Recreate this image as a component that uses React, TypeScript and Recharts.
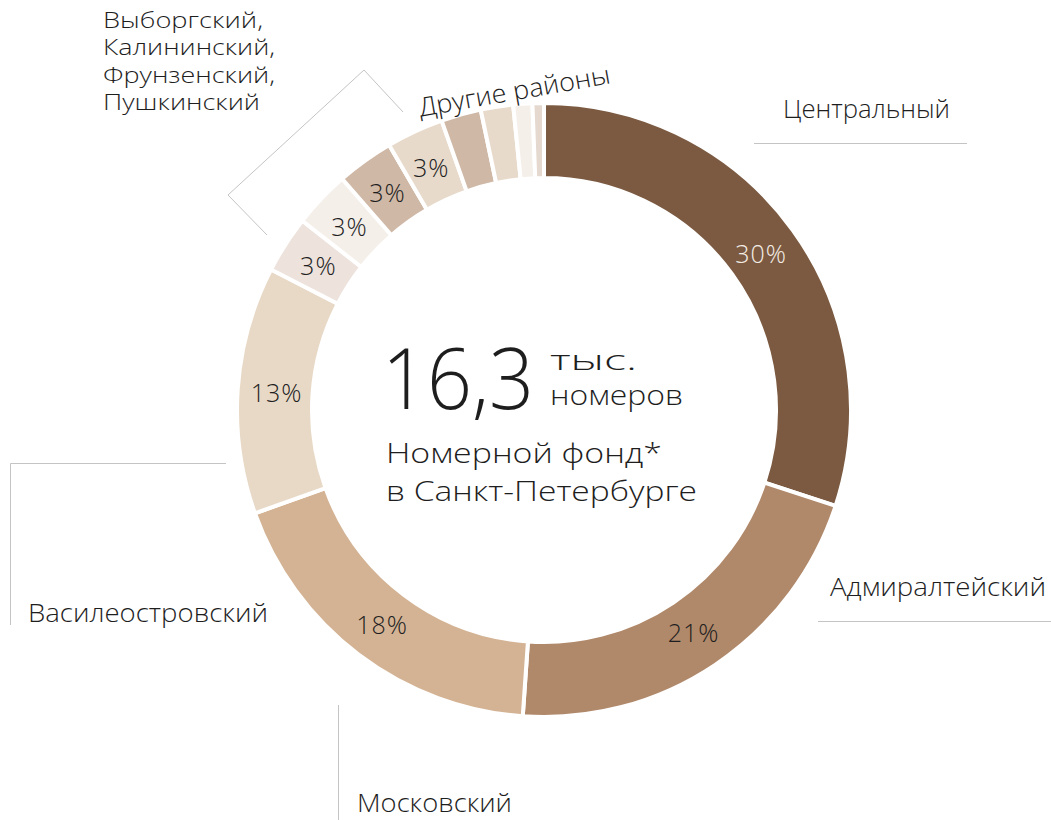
import React from 'react'
import { PieChart, Pie, Cell } from 'recharts'

const districts = [
  'Центральный',
  'Адмиралтейский',
  'Московский',
  'Василеостровский',
  'Выборгский',
  'Калининский',
  'Фрунзенский',
  'Пушкинский',
  'Другой 1',
  'Другой 2',
  'Другой 3',
  'Другой 4',
]
const shares = [30, 21, 18.4, 13, 3, 3, 3, 3, 2.1, 1.7, 1.0, 0.6]
const colors = [
  '#7b5a41', '#b0886a', '#d4b394', '#e8d9c7',
  '#ede2dc', '#f5efea', '#cfb8a6', '#e8dacb',
  '#cfb8a6', '#e8dacb', '#f5efea', '#e4d8cf',
]
const groupLines = ['Выборгский,', 'Калининский,', 'Фрунзенский,', 'Пушкинский']
const groupWidths = [160, 172, 172, 157]

const data = districts.map((name, i) => ({ name, value: shares[i] }))

const FONT = '"Open Sans", Lato, sans-serif'
const RAD = Math.PI / 180

function renderLabel(props: any) {
  const { cx, cy, midAngle, index, value } = props
  if (value < 3) return null
  const r = 268
  const x = cx + r * Math.cos(-midAngle * RAD)
  const y = cy + r * Math.sin(-midAngle * RAD)
  return (
    <text
      x={x}
      y={y}
      textAnchor="middle"
      dominantBaseline="central"
      fill={index === 0 ? '#f4ede6' : '#1e1e1e'}
      fontSize={25}
      fontWeight={300}
      fontFamily={FONT}
      letterSpacing={1}
    >
      {`${Math.round(value)}%`}
    </text>
  )
}

export default function App() {
  const line = '#c4c4c4'
  const txt = '#1e1e1e'
  const fit = 'spacingAndGlyphs'
  return (
    <div style={{ position: 'absolute', left: 0, top: 0, width: 1051, height: 820, background: '#fff' }}>
      <PieChart width={1051} height={820} margin={{ top: 0, right: 0, bottom: 0, left: 0 }}>
        <Pie
          data={data}
          dataKey="value"
          cx={544}
          cy={410}
          innerRadius={232}
          outerRadius={307}
          startAngle={90}
          endAngle={-270}
          stroke="#ffffff"
          strokeWidth={4}
          label={renderLabel}
          labelLine={false}
          isAnimationActive={false}
        >
          {data.map((d, i) => (
            <Cell key={d.name} fill={colors[i]} />
          ))}
        </Pie>
      </PieChart>
      <svg
        width={1051}
        height={820}
        style={{ position: 'absolute', left: 0, top: 0, pointerEvents: 'none' }}
        fontFamily={FONT}
        fontWeight={300}
      >
        {/* center */}
        <text x={382} y={409} fontSize={84} fill={txt} textLength={152} lengthAdjust={fit}>16,3</text>
        <text x={550} y={370} fontSize={28} fill={txt} textLength={87} lengthAdjust={fit}>тыс.</text>
        <text x={550} y={405} fontSize={28} fill={txt} textLength={133} lengthAdjust={fit}>номеров</text>
        <text x={386} y={463} fontSize={28} fill={txt} textLength={276} lengthAdjust={fit}>Номерной фонд*</text>
        <text x={386} y={501} fontSize={28} fill={txt} textLength={311} lengthAdjust={fit}>в Санкт-Петербурге</text>

        {/* Центральный */}
        <text x={783} y={118} fontSize={26} fill={txt} textLength={167} lengthAdjust={fit}>Центральный</text>
        <line x1={754} y1={143.5} x2={967} y2={143.5} stroke={line} strokeWidth={1} />

        {/* Адмиралтейский */}
        <text x={830} y={596} fontSize={26} fill={txt} textLength={216} lengthAdjust={fit}>Адмиралтейский</text>
        <line x1={818} y1={621.5} x2={1051} y2={621.5} stroke={line} strokeWidth={1} />

        {/* Василеостровский */}
        <polyline points="226,463.5 10.5,463.5 10.5,625" fill="none" stroke={line} strokeWidth={1} />
        <text x={28} y={622} fontSize={26} fill={txt} textLength={240} lengthAdjust={fit}>Василеостровский</text>

        {/* Московский */}
        <line x1={338.5} y1={705} x2={338.5} y2={820} stroke={line} strokeWidth={1} />
        <text x={357} y={812} fontSize={26} fill={txt} textLength={155} lengthAdjust={fit}>Московский</text>

        {/* 3% group */}
        <polyline points="267,235 228,195 364,70 403,112" fill="none" stroke={line} strokeWidth={1} />
        {groupLines.map((s, i) => (
          <text key={s} x={103} y={28 + i * 27.3} fontSize={22.5} fill={txt} textLength={groupWidths[i]} lengthAdjust={fit}>
            {s}
          </text>
        ))}

        {/* others */}
        <text
          x={516}
          y={100}
          fontSize={26}
          fill={txt}
          textAnchor="middle"
          textLength={194}
          lengthAdjust={fit}
          transform="rotate(-10 516 100)"
        >
          Другие районы
        </text>
      </svg>
    </div>
  )
}
